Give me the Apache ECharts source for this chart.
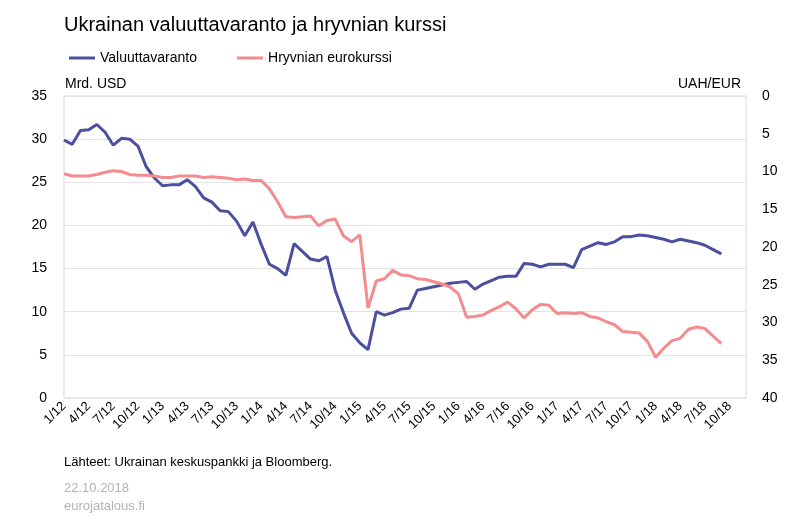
<!DOCTYPE html>
<html><head><meta charset="utf-8">
<script src="https://cdn.jsdelivr.net/npm/echarts@6/dist/echarts.min.js"></script>
<style>html,body{margin:0;padding:0;background:#fff}#c{width:800px;height:523px}</style>
</head><body><div id="c"></div>
<script>
const reserves = [29.9,29.4,31.0,31.1,31.7,30.8,29.3,30.1,30.0,29.2,26.8,25.5,24.6,24.7,24.7,25.3,24.5,23.2,22.7,21.7,21.6,20.5,18.8,20.4,17.8,15.5,15.0,14.2,17.9,17.0,16.1,15.9,16.4,12.5,9.9,7.5,6.4,5.6,10.0,9.6,9.9,10.3,10.4,12.5,12.7,12.9,13.1,13.3,13.4,13.5,12.6,13.2,13.6,14.0,14.1,14.1,15.6,15.5,15.2,15.5,15.5,15.5,15.1,17.2,17.6,18.0,17.8,18.1,18.7,18.7,18.9,18.8,18.6,18.4,18.1,18.4,18.2,18.0,17.7,17.2,16.7];
const eurRate = [10.3,10.6,10.6,10.6,10.4,10.1,9.9,10.0,10.4,10.5,10.5,10.6,10.8,10.8,10.6,10.6,10.6,10.8,10.7,10.8,10.9,11.1,11.0,11.2,11.2,12.3,14.0,16.0,16.1,16.0,15.9,17.2,16.5,16.3,18.5,19.3,18.4,28.1,24.5,24.2,23.1,23.7,23.8,24.2,24.3,24.6,24.9,25.3,26.2,29.3,29.2,29.0,28.4,27.9,27.3,28.2,29.4,28.3,27.6,27.7,28.8,28.7,28.8,28.7,29.2,29.4,29.9,30.3,31.2,31.3,31.4,32.5,34.6,33.4,32.4,32.1,30.9,30.6,30.8,31.8,32.8];
const categories = [];
for (let y = 12; y <= 18; y++) for (let m = 1; m <= 12; m++) categories.push(m + '/' + y);
const font = 'Liberation Sans, Arial, sans-serif';
const chart = echarts.init(document.getElementById('c'));
chart.setOption({
  animation: false,
  textStyle: {fontFamily: font},
  title: {text: 'Ukrainan valuuttavaranto ja hryvnian kurssi', left: 59, top: 10,
    textStyle: {fontSize: 20, fontWeight: 'normal', color: '#000', fontFamily: font}},
  legend: {left: 64, top: 46, itemWidth: 26, itemHeight: 3, itemGap: 40, icon: 'rect',
    textStyle: {fontSize: 14, color: '#000', fontFamily: font},
    data: ['Valuuttavaranto', 'Hryvnian eurokurssi']},
  grid: {left: 64, right: 54, top: 96, bottom: 125, show: true, borderColor: '#d9d9d9', borderWidth: 1},
  xAxis: {type: 'category', data: categories, boundaryGap: false,
    axisLine: {show: false}, axisTick: {show: false},
    axisLabel: {interval: 2, rotate: 45, fontSize: 13, color: '#000', margin: 6, fontFamily: font}},
  yAxis: [
    {type: 'value', min: 0, max: 35, interval: 5, position: 'left',
      axisLine: {show: false}, axisTick: {show: false},
      axisLabel: {fontSize: 14, color: '#000', margin: 17, fontFamily: font},
      splitLine: {lineStyle: {color: '#e3e3e3'}}},
    {type: 'value', min: 0, max: 40, interval: 5, inverse: true, position: 'right',
      axisLine: {show: false}, axisTick: {show: false},
      axisLabel: {fontSize: 14, color: '#000', margin: 16, fontFamily: font},
      splitLine: {show: false}}
  ],
  graphic: [
    {type: 'text', left: 65, top: 77, style: {text: 'Mrd. USD', fontSize: 14, fill: '#000', fontFamily: font}},
    {type: 'text', right: 59, top: 77, style: {text: 'UAH/EUR', fontSize: 14, fill: '#000', fontFamily: font}},
    {type: 'text', left: 64, top: 456, style: {text: 'Lähteet: Ukrainan keskuspankki ja Bloomberg.', fontSize: 13, fill: '#000', fontFamily: font}},
    {type: 'text', left: 64, top: 482, style: {text: '22.10.2018', fontSize: 13, fill: '#b3b3b3', fontFamily: font}},
    {type: 'text', left: 64, top: 500, style: {text: 'eurojatalous.fi', fontSize: 13, fill: '#b3b3b3', fontFamily: font}}
  ],
  series: [
    {name: 'Valuuttavaranto', type: 'line', data: reserves, yAxisIndex: 0, symbol: 'none',
      lineStyle: {width: 3, color: '#4a4f9e'}, itemStyle: {color: '#4a4f9e'}},
    {name: 'Hryvnian eurokurssi', type: 'line', data: eurRate, yAxisIndex: 1, symbol: 'none',
      lineStyle: {width: 3, color: '#f38c8f'}, itemStyle: {color: '#f38c8f'}}
  ]
});
</script></body></html>
